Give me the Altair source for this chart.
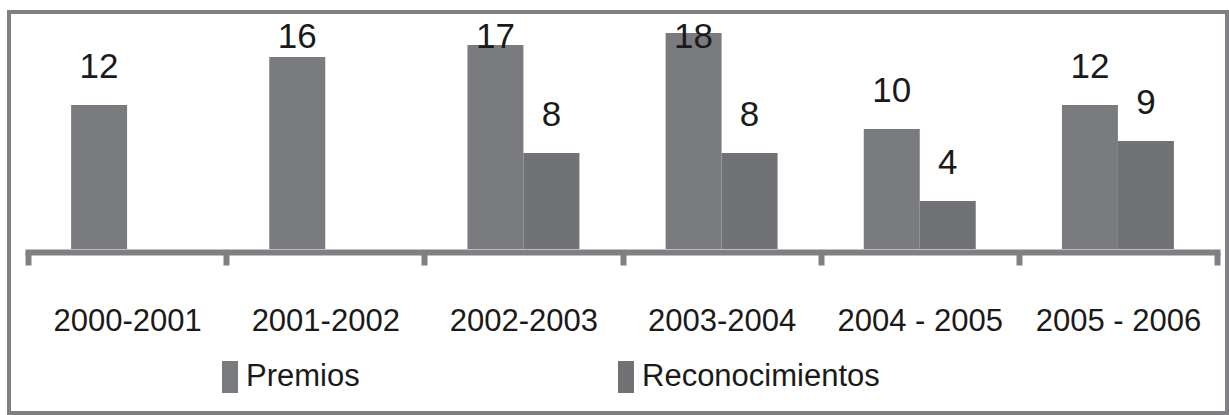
import altair as alt
import pandas as pd

# Academic years and counts per series
periodos = ["2000-2001", "2001-2002", "2002-2003", "2003-2004", "2004 - 2005", "2005 - 2006"]
premios = [12, 16, 17, 18, 10, 12]
reconocimientos = [None, None, 8, 8, 4, 9]
series = ["Premios", "Reconocimientos"]
colores = ["#7a7b7f", "#717276"]

rows = []
for periodo, a, b in zip(periodos, premios, reconocimientos):
    for serie, valor in zip(series, (a, b)):
        if valor is not None:
            rows.append({"periodo": periodo, "serie": serie, "valor": valor})
df = pd.DataFrame(rows)

FONT = "Liberation Sans"
GRIS = "#808084"
TEXTO = "#1a1a1a"

x = alt.X(
    "periodo:N",
    sort=periodos,
    title=None,
    scale=alt.Scale(range=[19, 1208], paddingInner=0, paddingOuter=0),
    axis=alt.Axis(
        orient="bottom",
        offset=-161,
        labelAngle=0,
        tickBand="extent",
        domainColor=GRIS,
        domainWidth=6,
        domainCap="square",
        tickColor=GRIS,
        tickWidth=6,
        tickSize=13,
        labelFont=FONT,
        labelFontSize=31,
        labelColor=TEXTO,
        labelBaseline="alphabetic",
        labelPadding=65,
        grid=False,
    ),
)
# two bars per year, ~56 px each, centred in the year's slot
xoff = alt.XOffset("serie:N", sort=series, scale=alt.Scale(paddingInner=0, paddingOuter=0.77))
yscale = alt.Scale(domain=[0, 19.75], range=[237, 0])

barras = alt.Chart(df).mark_bar().encode(
    x=x,
    xOffset=xoff,
    y=alt.Y("valor:Q", scale=yscale, axis=None),
    color=alt.Color(
        "serie:N",
        scale=alt.Scale(domain=series, range=colores),
        legend=alt.Legend(
            title=None,
            orient="none",
            legendX=205,
            legendY=349,
            direction="horizontal",
            symbolType="M-0.5,-1H0.5V1H-0.5Z",
            symbolSize=1024,
            symbolStrokeWidth=0,
            labelFont=FONT,
            labelFontSize=31,
            labelColor=TEXTO,
            labelOffset=0,
            labelLimit=0,
            columnPadding=250,
            padding=0,
        ),
    ),
)

etiquetas = alt.Chart(df).transform_calculate(
    ypos="min(datum.valor + 2.25, 16.75)"
).mark_text(font=FONT, fontSize=35, baseline="alphabetic", color=TEXTO).encode(
    x=x,
    xOffset=xoff,
    y=alt.Y("ypos:Q", scale=yscale, axis=None),
    text="valor:Q",
)

chart = (
    alt.layer(barras, etiquetas)
    .properties(
        width=1218,
        height=401,
        autosize="none",
        padding={"left": 9, "top": 12, "right": 2, "bottom": 2},
        background="white",
    )
    .configure_view(stroke=GRIS, strokeWidth=4)
)

chart.save("out.html", embed_options={"renderer": "svg", "actions": False})
